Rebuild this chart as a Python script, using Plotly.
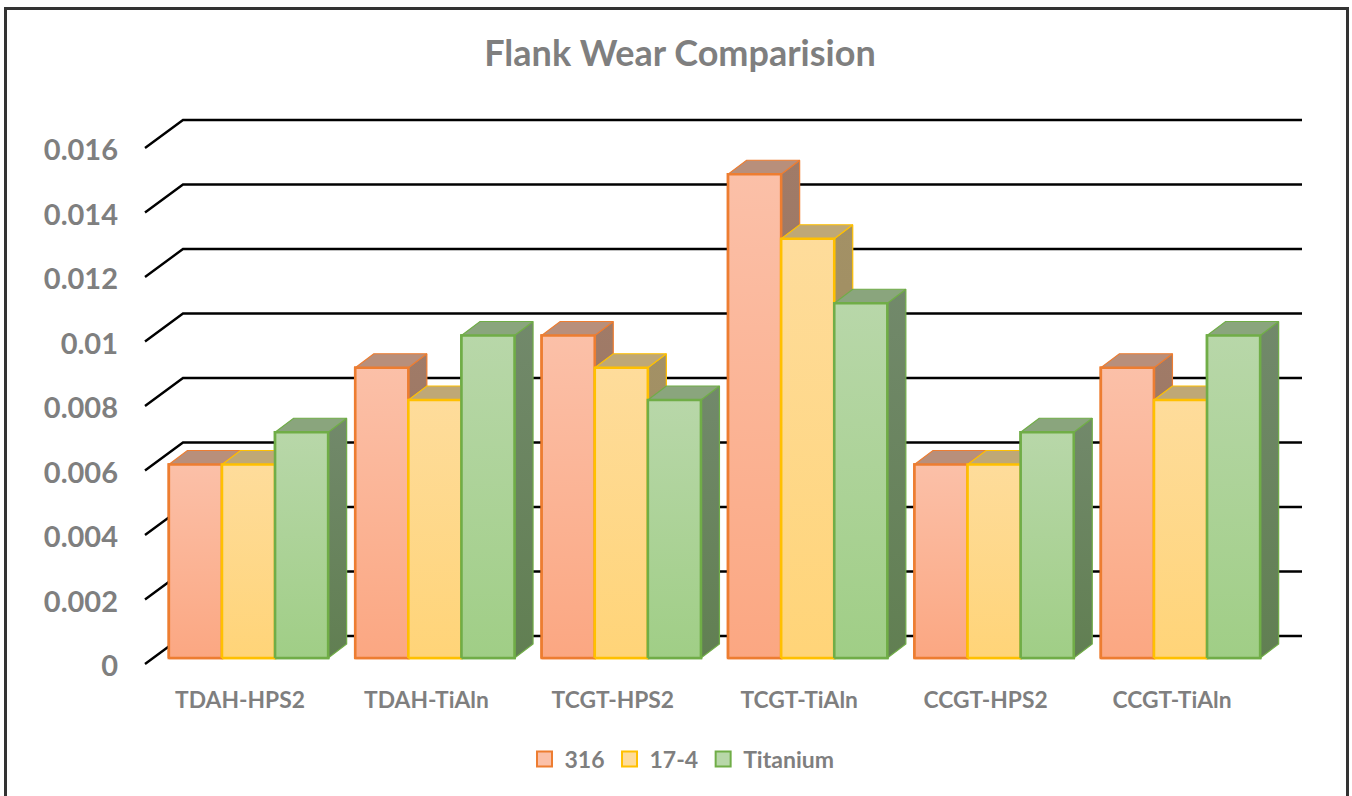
import plotly.graph_objects as go

categories = ["TDAH-HPS2", "TDAH-TiAln", "TCGT-HPS2", "TCGT-TiAln", "CCGT-HPS2", "CCGT-TiAln"]
s316 = [0.006, 0.009, 0.010, 0.015, 0.006, 0.009]
s174 = [0.006, 0.008, 0.009, 0.013, 0.006, 0.008]
titanium = [0.007, 0.010, 0.008, 0.011, 0.007, 0.010]
series_names = ["316", "17-4", "Titanium"]
tick_values = [0, 0.002, 0.004, 0.006, 0.008, 0.01, 0.012, 0.014, 0.016]
tick_labels = ["0", "0.002", "0.004", "0.006", "0.008", "0.01", "0.012", "0.014", "0.016"]

series_values = [s316, s174, titanium]
styles = [
    dict(line="#ED7D31", top="#FBC0A8", bottom="#FBA782", side0="#A07B68", side1="#96705A", cap="#B88F7B"),
    dict(line="#FFC000", top="#FEDC9B", bottom="#FFD478", side0="#A39166", side1="#9C8A58", cap="#BFA876"),
    dict(line="#70AD47", top="#B8D7A9", bottom="#A0CE86", side0="#72896B", side1="#617F52", cap="#8AA57D"),
]
GREY = "#7F7F7F"
FONT = "Lato"

# Page geometry, in pixels
W, H = 1352, 796
L, R, T, B = 130, 1320, 100, 672
BASE_PX = 658.0        # pixel row of value 0 on the plane of the bars' fronts
PX_PER_VALUE = 32.25 / 0.001
GROUP_PX = 186.4       # pixels per category
FIRST_CENTER_PX = 248.5

xr = [(L - FIRST_CENTER_PX) / GROUP_PX, (R - FIRST_CENTER_PX) / GROUP_PX]
yr = [(BASE_PX - B) / PX_PER_VALUE, (BASE_PX - T) / PX_PER_VALUE]

dxu = lambda px: px / GROUP_PX
dyu = lambda px: px / PX_PER_VALUE
x_of_px = lambda px: (px - FIRST_CENTER_PX) / GROUP_PX

bar_w = dxu(53.1)
depth_x, depth_y = dxu(18.5), dyu(14)

fig = go.Figure()

# Back wall and side wall gridlines
gx, gy = [], []
for v in tick_values:
    gx += [x_of_px(145), x_of_px(183), x_of_px(1302), None]
    gy += [v - dyu(6), v + dyu(22), v + dyu(22), None]
fig.add_trace(go.Scatter(x=gx, y=gy, mode="lines", line=dict(color="black", width=2.4),
                         hoverinfo="skip", showlegend=False))

# Solid bars through the library's bar scale
for s, (name, vals, st) in enumerate(zip(series_names, series_values, styles)):
    fig.add_trace(go.Bar(x=[i + (s - 1) * bar_w for i in range(len(categories))], y=vals, width=bar_w,
                         name=name, marker=dict(color=st["bottom"], line=dict(color=st["line"], width=2.6)),
                         showlegend=False, customdata=categories,
                         hovertemplate="%{customdata}<br>" + name + ": %{y}<extra></extra>"))

# 3-D faces: each is derived from a value, series by series so later fronts cover earlier sides
def grad(c0, c1):
    return dict(type="vertical", colorscale=[[0, c0], [1, c1]])

for s, (vals, st) in enumerate(zip(series_values, styles)):
    for i, v in enumerate(vals):
        x0 = i + (s - 1) * bar_w - bar_w / 2
        x1 = x0 + bar_w
        # side face
        fig.add_trace(go.Scatter(
            x=[x1, x1 + depth_x, x1 + depth_x, x1, x1],
            y=[0, depth_y, v + depth_y, v, 0],
            mode="lines", fill="toself", line=dict(color=st["line"], width=1.2),
            fillgradient=grad(st["side1"], st["side0"]), hoverinfo="skip", showlegend=False))
        # top face
        fig.add_trace(go.Scatter(
            x=[x0, x0 + depth_x, x1 + depth_x, x1, x0],
            y=[v, v + depth_y, v + depth_y, v, v],
            mode="lines", fill="toself", line=dict(color=st["line"], width=1.2),
            fillcolor=st["cap"], hoverinfo="skip", showlegend=False))
        # front face with gradient
        fig.add_trace(go.Scatter(
            x=[x0, x0, x1, x1, x0], y=[0, v, v, 0, 0],
            mode="lines", fill="toself", line=dict(color=st["line"], width=2.6),
            fillgradient=grad(st["bottom"], st["top"]), hoverinfo="skip", showlegend=False))

# Legend keys
for name, st in zip(series_names, styles):
    fig.add_trace(go.Scatter(x=[None], y=[None], mode="markers", name=name,
                             marker=dict(symbol="square", size=15, color=st["top"],
                                         line=dict(color=st["line"], width=2))))

px = lambda p: (p - L) / (R - L)
py = lambda p: 1 - (p - T) / (B - T)

fig.update_layout(
    width=W, height=H, autosize=False,
    margin=dict(l=L, r=W - R, t=T, b=H - B),
    paper_bgcolor="white", plot_bgcolor="white",
    barmode="overlay",
    title=dict(text="<b>Flank Wear Comparision</b>", x=680 / W, xanchor="center",
               y=1 - 53 / H, yanchor="middle", font=dict(family=FONT, size=36, color=GREY)),
    xaxis=dict(range=xr, showgrid=False, zeroline=False, showline=False, ticks="",
               tickmode="array", tickvals=[i - dxu(8.5) for i in range(len(categories))],
               ticktext=["<b>%s</b>" % c for c in categories],
               tickfont=dict(family=FONT, size=22.8, color=GREY), ticklabelstandoff=12),
    yaxis=dict(range=yr, showgrid=False, zeroline=False, showline=False, ticks="",
               tickmode="array", tickvals=tick_values,
               ticktext=["<b>%s</b>" % t for t in tick_labels],
               tickfont=dict(family=FONT, size=29, color=GREY), ticklabelshift=8, ticklabelstandoff=11),
    legend=dict(orientation="h", x=px(682), xanchor="center", y=py(759), yanchor="middle",
                font=dict(family=FONT, size=23, color=GREY, weight="bold"), itemclick=False, itemdoubleclick=False,
                bgcolor="rgba(0,0,0,0)", tracegroupgap=0),
    shapes=[dict(type="rect", xref="paper", yref="paper", x0=px(5.5), x1=px(1347.5),
                 y0=py(840), y1=py(8.5), line=dict(color="#333333", width=3), fillcolor="rgba(0,0,0,0)",
                 layer="below")],
)

fig.write_html("out.html", config=dict(displayModeBar=False),
               post_script="document.body.style.margin='0';document.body.style.overflow='hidden';")
